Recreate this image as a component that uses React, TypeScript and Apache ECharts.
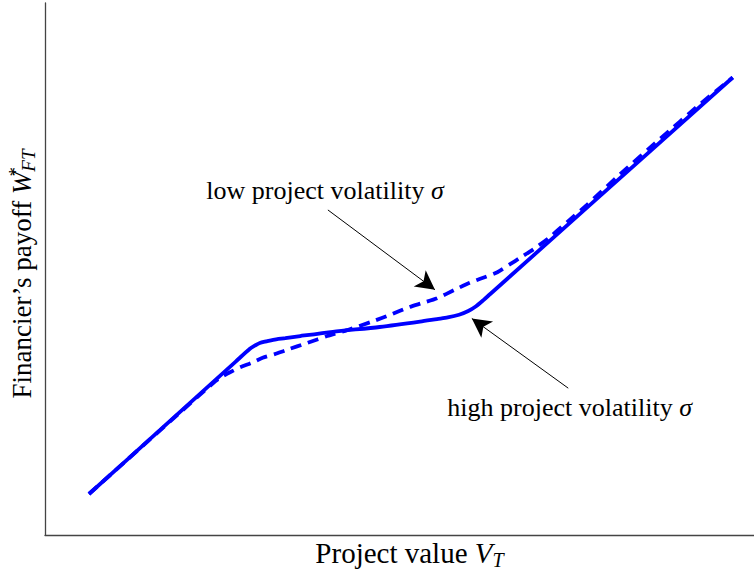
import { useEffect, useRef } from "react";
import * as echarts from "echarts";

// Solid curve: high project volatility
const solidX = [6.2, 16.2, 26.9, 28.9, 29.6, 30.3, 31.2, 32.2, 33.9, 36.0, 40.6, 47.2, 52.9, 55.3, 56.8, 58.4, 59.7, 60.8, 61.8, 62.8, 97.0];
const solidY = [7.7, 19.7, 32.6, 35.0, 35.6, 36.1, 36.4, 36.7, 37.0, 37.4, 38.2, 39.1, 40.1, 40.6, 40.9, 41.4, 42.1, 43.0, 44.1, 45.3, 86.0];

// Dashed curve: low project volatility
const dashedX = [6.2, 24.0, 25.0, 26.1, 27.5, 29.2, 30.7, 32.4, 34.1, 37.0, 39.8, 42.6, 46.3, 48.7, 51.1, 53.2, 55.3, 57.8, 59.9, 62.1, 63.8, 65.6, 67.0, 69.1, 71.2, 73.8, 76.4, 81.1, 86.7, 92.4, 97.0];
const dashedY = [7.7, 28.9, 29.8, 30.6, 31.5, 32.4, 33.3, 34.0, 34.8, 36.1, 37.4, 38.5, 40.2, 41.4, 42.7, 43.6, 44.5, 46.1, 47.4, 48.5, 49.4, 50.9, 52.1, 53.9, 56.0, 59.0, 62.0, 67.8, 74.4, 81.0, 86.0];

// Annotations (data coordinates)
const lowArrowFrom = [39.9, 61.1];
const lowArrowTo = [55.0, 46.1];
const highArrowFrom = [73.8, 27.6];
const highArrowTo = [60.2, 40.7];
const lowLabelAt = [39.5, 64.7];
const highLabelAt = [74.0, 23.9];
const lowLabel = "low project volatility ";
const highLabel = "high project volatility ";

const xNameText = "Project value ";
const yNameText = "Financier\u2019s payoff ";

const FONT = "Liberation Serif";

export default function App() {
  const ref = useRef<HTMLDivElement>(null);

  useEffect(() => {
    document.body.style.margin = "0";
    const chart = echarts.init(ref.current!, null, { renderer: "svg" });

    const solidData = solidX.map((x, i) => [x, solidY[i]]);
    const dashedData = dashedX.map((x, i) => [x, dashedY[i]]);

    const axisLine = { show: true, onZero: false, lineStyle: { color: "#444", width: 1.3 } };

    const annRich = {
      r: { fontFamily: FONT, fontSize: 26, color: "#000" },
      m: { fontFamily: FONT, fontSize: 26, fontStyle: "italic", color: "#000" },
    };

    const annMarkPoint = (at: number[], text: string) => ({
      silent: true,
      symbol: "circle",
      symbolSize: 0,
      itemStyle: { color: "rgba(0,0,0,0)" },
      label: {
        show: true,
        position: "inside",
        formatter: `{r|${text}}{m|σ}`,
        rich: annRich,
      },
      data: [{ coord: at }],
    });

    const arrowMarkLine = (from: number[], to: number[]) => ({
      silent: true,
      animation: false,
      symbol: ["none", "arrow"],
      symbolSize: [15, 19],
      label: { show: false },
      lineStyle: { color: "#000", width: 1, type: "solid" },
      data: [[{ coord: from }, { coord: to }]],
    });

    chart.setOption({
      animation: false,
      backgroundColor: "#fff",
      grid: { left: 45, right: 0, top: 3, bottom: 38, outerBoundsMode: "none", containLabel: false },
      xAxis: {
        type: "value",
        min: 0,
        max: 100,
        axisLine,
        axisTick: { show: false },
        axisLabel: { show: false },
        splitLine: { show: false },
        name: `{r|${xNameText}}{i|V}{s|T}`,
        nameLocation: "middle",
        nameGap: 1,
        nameTextStyle: {
          padding: [0, 0, 0, 20],
          rich: {
            r: { fontFamily: FONT, fontSize: 29, lineHeight: 34, color: "#000" },
            i: { fontFamily: FONT, fontSize: 29, fontStyle: "italic", lineHeight: 34, color: "#000" },
            s: { fontFamily: FONT, fontSize: 20, fontStyle: "italic", verticalAlign: "bottom", color: "#000" },
          },
        },
      },
      yAxis: {
        type: "value",
        min: 0,
        max: 100,
        axisLine,
        axisTick: { show: false },
        axisLabel: { show: false },
        splitLine: { show: false },
        name: `{r|${yNameText}}{i|W}{p|*}{s|FT}`,
        nameLocation: "middle",
        nameGap: 7,
        nameRotate: 90,
        nameTextStyle: {
          padding: [0, 10, 0, 0],
          rich: {
            r: { fontFamily: FONT, fontSize: 27, lineHeight: 32, color: "#000" },
            i: { fontFamily: FONT, fontSize: 27, fontStyle: "italic", lineHeight: 32, color: "#000" },
            p: { fontFamily: FONT, fontSize: 19, verticalAlign: "top", width: 0, color: "#000" },
            s: { fontFamily: FONT, fontSize: 19, fontStyle: "italic", verticalAlign: "bottom", color: "#000" },
          },
        },
      },
      series: [
        {
          name: "high project volatility",
          type: "line",
          data: solidData,
          smooth: 0.25,
          showSymbol: false,
          symbol: "none",
          silent: true,
          lineStyle: { color: "#0000ff", width: 3.8, type: "solid" },
          markLine: arrowMarkLine(highArrowFrom, highArrowTo),
          markPoint: annMarkPoint(highLabelAt, highLabel),
        },
        {
          name: "low project volatility",
          type: "line",
          data: dashedData,
          smooth: 0.25,
          showSymbol: false,
          symbol: "none",
          silent: true,
          lineStyle: { color: "#0000ff", width: 3.8, type: [11, 7] },
          markLine: arrowMarkLine(lowArrowFrom, lowArrowTo),
          markPoint: annMarkPoint(lowLabelAt, lowLabel),
        },
      ],
    });

    return () => chart.dispose();
  }, []);

  return <div ref={ref} style={{ width: 754, height: 573 }} />;
}
